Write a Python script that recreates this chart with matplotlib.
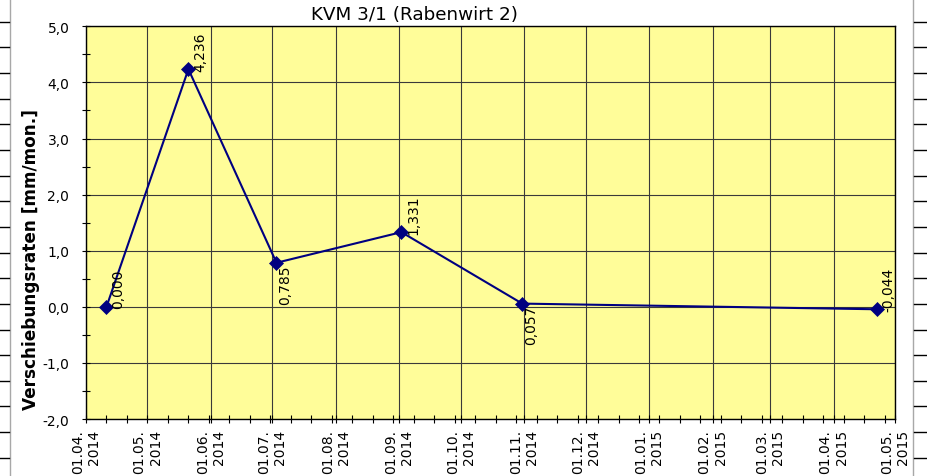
# KVM 3/1 displacement rate chart

import pandas as pd
import numpy as np
import matplotlib
matplotlib.use('Agg')
import matplotlib.pyplot as plt
import matplotlib.dates as mdates
from matplotlib.lines import Line2D
from matplotlib.ticker import MultipleLocator, FixedLocator, FuncFormatter

plt.rcParams['font.family'] = ['DejaVu Sans']

# measurement data
dates = pd.to_datetime(['2014-04-11', '2014-05-21', '2014-07-03',
                        '2014-09-02', '2014-10-31', '2015-04-22'])
rates = [0.000, 4.236, 0.785, 1.331, 0.057, -0.044]
# where each value label sits relative to its point
label_side = ['up', 'up', 'down', 'up', 'down', 'up']

title = 'KVM 3/1 (Rabenwirt 2)'
ylabel = 'Verschiebungsraten [mm/mon.]'
x_start, x_end = pd.Timestamp('2014-04-01'), pd.Timestamp('2015-05-01')
y_min, y_max = -2.0, 5.0

W, H = 928, 477

def comma(v, digits):
    return f'{v:.{digits}f}'.replace('.', ',')

fig = plt.figure(figsize=(W/100, H/100), dpi=100)
ax = fig.add_axes([86/W, 1-420/H, (895-86)/W, (420-27.3)/H])
ax.set_facecolor('#FFFD99')

ax.plot(dates, rates, color='#000080', lw=1.5, marker='D', ms=7.5,
        markeredgewidth=0.5, zorder=3, clip_on=False)

ax.set_xlim(x_start, x_end)
ax.set_ylim(y_min, y_max)

# axis ticks: months major, 10-day minor
ax.xaxis.set_major_locator(mdates.MonthLocator())
ax.xaxis.set_major_formatter(mdates.DateFormatter('%d.%m.\n%Y'))
minor = pd.date_range(x_start, x_end, freq='10D')
ax.xaxis.set_minor_locator(FixedLocator(mdates.date2num(minor)))
ax.yaxis.set_major_locator(MultipleLocator(1))
ax.yaxis.set_minor_locator(MultipleLocator(0.5))
ax.yaxis.set_major_formatter(FuncFormatter(lambda v, p: comma(v, 1)))

ax.tick_params(which='both', direction='inout', length=6, width=0.8, color='black')
ax.tick_params(axis='x', pad=4, labelsize=10)
ax.tick_params(axis='y', pad=9, labelsize=10)
plt.setp(ax.get_xticklabels(), rotation=90, ha='center', va='top', multialignment='right')

ax.grid(which='major', color='#3a3a3a', lw=0.8)
for s in ax.spines.values():
    s.set_color('black')
    s.set_linewidth(1.0)

# value labels
for d, r, side in zip(dates, rates, label_side):
    if side == 'up':
        off, va = (3.5, -1), 'bottom'
    else:
        off, va = (1.5, -1), 'top'
    ax.annotate(comma(r, 3), (d, r), xytext=off, textcoords='offset points',
                rotation=90, ha='left', va=va, fontsize=10, color='black', zorder=4)

fig.text(415/W, 1-15/H, title, ha='center', va='center', fontsize=13.2)
fig.text(31/W, 1-260/H, ylabel, rotation=90, ha='center', va='center',
         fontsize=12.2, fontweight='bold')

# spreadsheet row markers on both edges
row_y = np.arange(22.7, H, 25.65)
fig.add_artist(Line2D([10/W, 10/W], [0, 1], color='#a8a8a8', lw=1, transform=fig.transFigure))
fig.add_artist(Line2D([913/W, 913/W], [0, 1], color='#a8a8a8', lw=1, transform=fig.transFigure))
for y in row_y:
    fig.add_artist(Line2D([0, 9/W], [1-y/H]*2, color='black', lw=1, transform=fig.transFigure))
    fig.add_artist(Line2D([914/W, 1], [1-y/H]*2, color='black', lw=1, transform=fig.transFigure))

fig.savefig('out.png', dpi=100)
